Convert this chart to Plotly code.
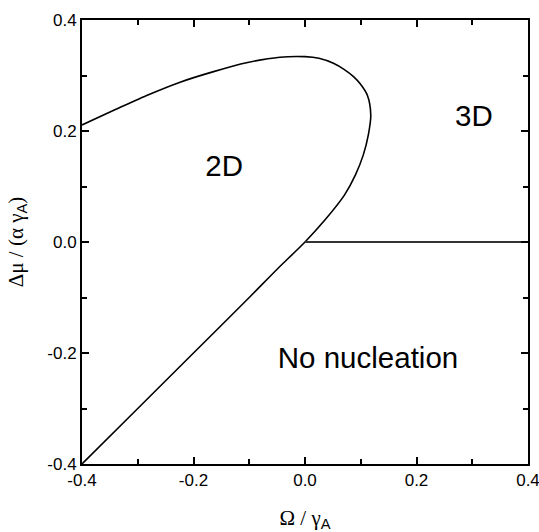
import plotly.graph_objects as go

# Boundary curve (2D region boundary), ordered along the curve
curve_x = [-0.4, -0.3, -0.2, -0.1, -0.05, 0.0, 0.036, 0.071, 0.0905, 0.1046, 0.1136,
           0.118, 0.112, 0.099, 0.087, 0.070, 0.051, 0.025, 0.0, -0.045, -0.105, -0.164,
           -0.224, -0.284, -0.344, -0.4]
curve_y = [-0.4, -0.3, -0.2, -0.1, -0.049, 0.0, 0.040, 0.085, 0.121, 0.157, 0.193,
           0.229, 0.264, 0.285, 0.298, 0.311, 0.322, 0.331, 0.334, 0.333, 0.323, 0.307,
           0.288, 0.264, 0.237, 0.211]

# Horizontal boundary between 3D and no nucleation
hline_x = [0.0, 0.4]
hline_y = [0.0, 0.0]

# Region labels
label_text = ["2D", "3D", "No nucleation"]
label_x = [-0.145, 0.303, 0.113]
label_y = [0.133, 0.222, -0.213]

tick_vals = [-0.4, -0.2, 0.0, 0.2, 0.4]
tick_text = ["-0.4", "-0.2", "0.0", "0.2", "0.4"]

SERIF = "Liberation Serif, Times New Roman, serif"
SANS = "Liberation Sans, Arial, sans-serif"

fig = go.Figure()
fig.add_trace(go.Scatter(x=curve_x, y=curve_y, mode="lines",
                         line=dict(color="black", width=1.6, shape="spline", smoothing=0.8),
                         hoverinfo="skip", showlegend=False))
fig.add_trace(go.Scatter(x=hline_x, y=hline_y, mode="lines",
                         line=dict(color="#333", width=1.8),
                         hoverinfo="skip", showlegend=False))
fig.add_trace(go.Scatter(x=label_x, y=label_y, mode="text", text=label_text,
                         textfont=dict(family=SANS, size=29.5, color="black"),
                         hoverinfo="skip", showlegend=False))

axis_common = dict(
    range=[-0.4, 0.4], tickvals=tick_vals, ticktext=tick_text, automargin=False,
    ticklabeloverflow="allow",
    showgrid=False, zeroline=False, showline=True, linecolor="black", linewidth=2,
    mirror="ticks", ticks="inside", ticklen=7, tickwidth=1.5, tickcolor="black",
    tickfont=dict(family=SANS, size=17, color="black"),
    minor=dict(dtick=0.1, ticks="inside", ticklen=5, tickwidth=1.5, tickcolor="black", showgrid=False),
)

x_title = (f"<span style='font-family:{SERIF}'>Ω&nbsp;/&nbsp;γ</span>"
           f"<sub><span style='font-family:{SANS}'>A</span></sub>")
y_title = (f"<span style='font-family:{SERIF}'>Δμ&nbsp;/&nbsp;(α&nbsp;γ</span>"
           f"<sub><span style='font-family:{SANS}'>A</span></sub>"
           f"<span style='font-family:{SERIF}'>)</span>")

fig.update_layout(
    width=539, height=532,
    margin=dict(l=82, r=11, t=20, b=68),
    plot_bgcolor="white", paper_bgcolor="white",
    xaxis=dict(**axis_common,
               title=dict(text=x_title, font=dict(family=SERIF, size=21, color="black"),
                          standoff=22)),
    yaxis=dict(**axis_common,
               title=dict(text=y_title, font=dict(family=SERIF, size=21, color="black"),
                          standoff=18)),
)

fig.write_html("out.html", config={"displayModeBar": False},
               post_script="document.body.style.margin='0px';")
